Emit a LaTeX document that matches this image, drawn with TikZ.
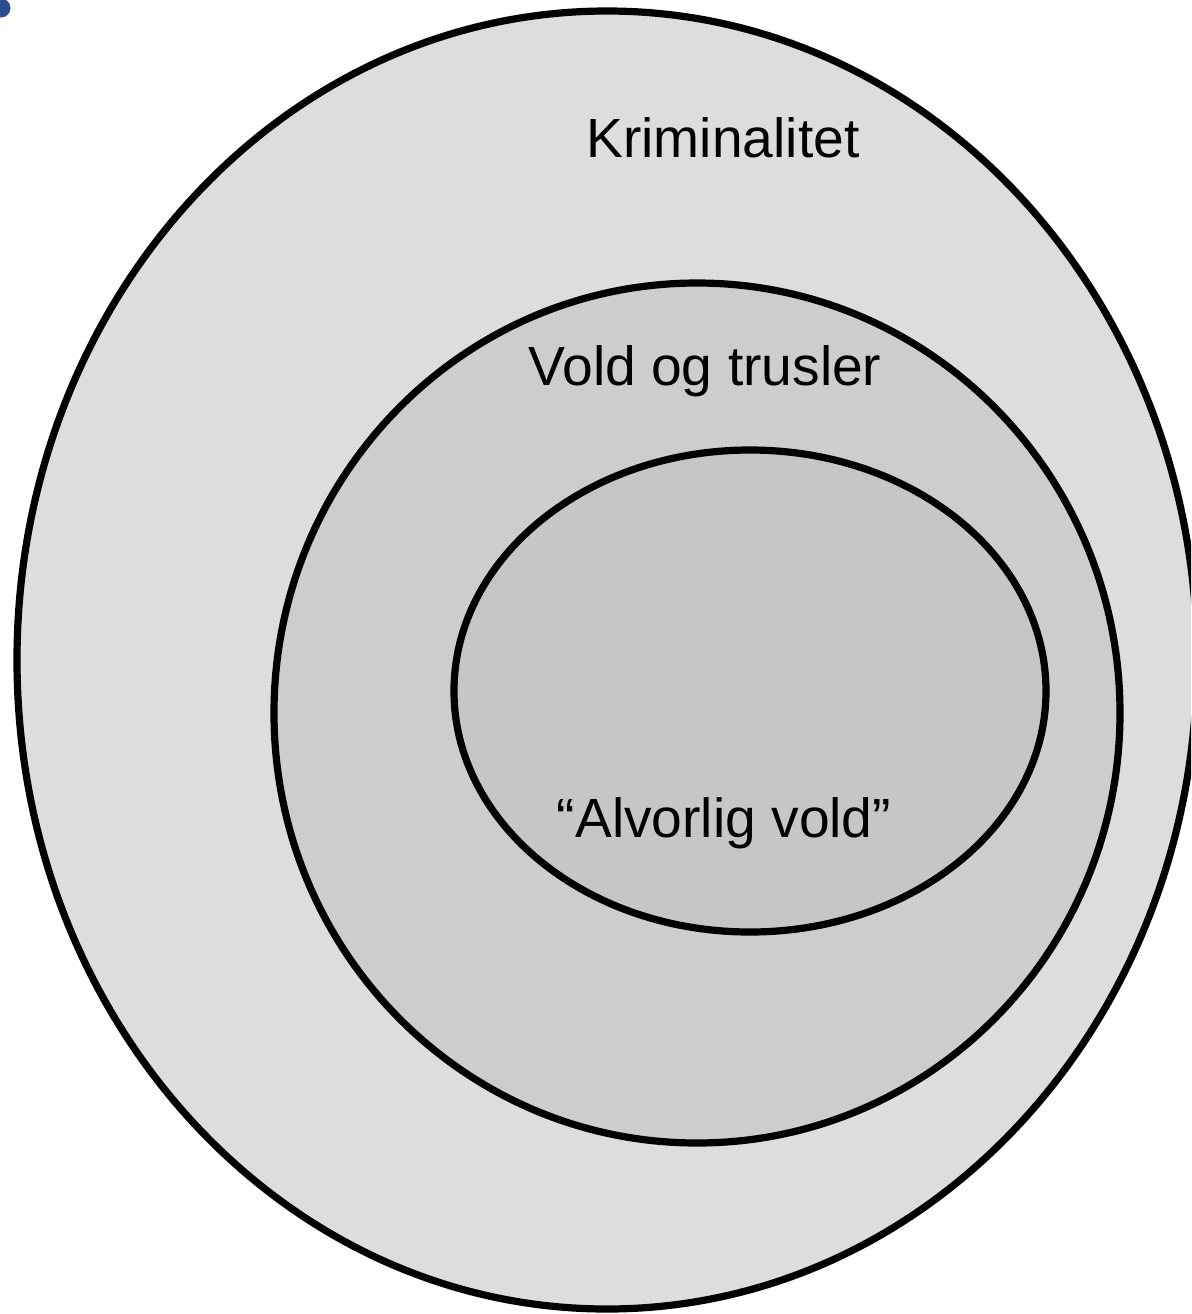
\documentclass[tikz,border=0pt]{standalone}
\usepackage{fontspec}
\setmainfont{Liberation Sans}
\usepackage{xcolor}
\usepackage{tikz}

\definecolor{ringA}{HTML}{DDDDDD}
\definecolor{ringB}{HTML}{CDCDCD}
\definecolor{ringC}{HTML}{C6C6C6}
\definecolor{dotblue}{HTML}{2B4C8E}

\tikzset{
  ring/.style={draw=black, line width=3.6pt},
  lbl/.style={anchor=base, inner sep=0pt, font=\fontsize{27.6}{33}\selectfont}
}

\begin{document}
\begin{tikzpicture}[x=0.5pt, y=-0.5pt]
    \clip (0,0) rectangle (1191,1314);
    \useasboundingbox (0,0) rectangle (1191,1314);

    % Nested sets
    \draw[ring, fill=ringA] (607,660) ellipse [x radius=590, y radius=649];
    \draw[ring, fill=ringB] (697,713) ellipse [x radius=423, y radius=430];
    \draw[ring, fill=ringC] (750,691) ellipse [x radius=296, y radius=241];

    % Labels
    \node[lbl] (krim) at (723,157) {Kriminalitet};
    \node[lbl] (vold) at (705,385) {Vold og trusler};
    \node[lbl] (alvor) at (724,837) {“Alvorlig vold”};

    % Corner dot
    \fill[dotblue] (1,8) circle [radius=9.5];
\end{tikzpicture}
\end{document}
